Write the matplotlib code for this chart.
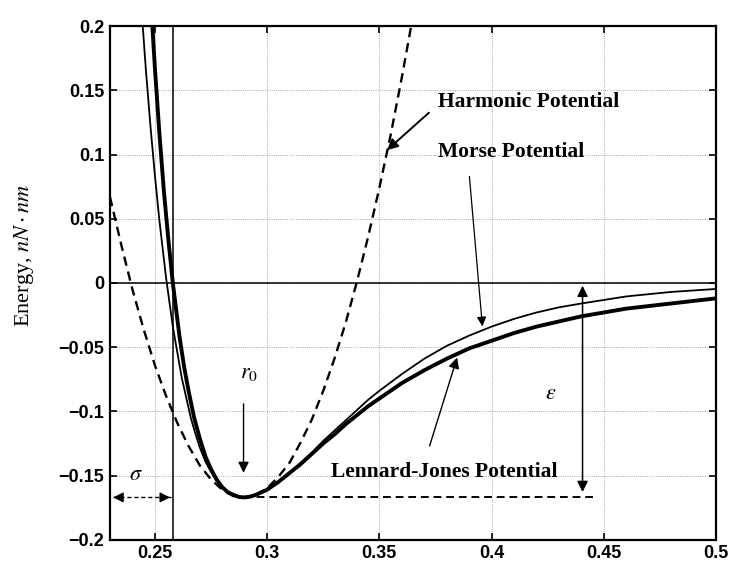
import matplotlib.pyplot as plt

# curves (r in nm, energy in nN*nm)
lj_r = [0.2485, 0.25, 0.252, 0.254, 0.256, 0.258, 0.261, 0.263, 0.265, 0.2675,
        0.27, 0.2725, 0.275, 0.2775, 0.28, 0.2825, 0.285, 0.2875, 0.29, 0.2925,
        0.295, 0.2975, 0.30, 0.305, 0.31, 0.315, 0.32, 0.325, 0.33, 0.335,
        0.34, 0.345, 0.35, 0.36, 0.37, 0.38, 0.39, 0.40, 0.41, 0.42, 0.43,
        0.44, 0.46, 0.48, 0.50]
lj_e = [0.211, 0.168, 0.117, 0.072, 0.034, 0.0, -0.042, -0.065, -0.084, -0.105,
        -0.121, -0.135, -0.145, -0.153, -0.159, -0.163, -0.165, -0.1667, -0.167,
        -0.1664, -0.165, -0.163, -0.161, -0.155, -0.148, -0.141, -0.133, -0.125,
        -0.118, -0.110, -0.103, -0.096, -0.090, -0.078, -0.068, -0.059, -0.051,
        -0.045, -0.039, -0.034, -0.030, -0.026, -0.020, -0.016, -0.012]

morse_r = [0.2446, 0.246, 0.248, 0.250, 0.252, 0.255, 0.258, 0.262, 0.266,
           0.268, 0.27, 0.2725, 0.275, 0.2775, 0.28, 0.2825, 0.285, 0.2875,
           0.29, 0.2925, 0.295, 0.2975, 0.30, 0.305, 0.31, 0.315, 0.32, 0.325,
           0.33, 0.335, 0.34, 0.345, 0.35, 0.36, 0.37, 0.38, 0.39, 0.40, 0.41,
           0.42, 0.43, 0.44, 0.46, 0.48, 0.50]
morse_e = [0.200, 0.166, 0.123, 0.084, 0.049, 0.004, -0.034, -0.074, -0.105,
           -0.117, -0.128, -0.139, -0.147, -0.154, -0.159, -0.163, -0.165,
           -0.1667, -0.167, -0.1665, -0.165, -0.163, -0.161, -0.155, -0.148,
           -0.140, -0.132, -0.123, -0.115, -0.107, -0.099, -0.091, -0.084,
           -0.071, -0.059, -0.049, -0.041, -0.034, -0.028, -0.023, -0.019,
           -0.016, -0.0105, -0.007, -0.0047]

harm_r = [0.23, 0.235, 0.24, 0.245, 0.25, 0.255, 0.26, 0.265, 0.27, 0.275,
          0.28, 0.285, 0.29, 0.295, 0.30, 0.305, 0.31, 0.315, 0.32, 0.325,
          0.33, 0.335, 0.34, 0.345, 0.35, 0.355, 0.36, 0.365]
harm_e = [0.067, 0.030, -0.005, -0.036, -0.064, -0.088, -0.109, -0.127,
          -0.142, -0.153, -0.161, -0.166, -0.167, -0.165, -0.160, -0.151,
          -0.140, -0.124, -0.106, -0.084, -0.059, -0.031, 0.001, 0.036,
          0.074, 0.115, 0.160, 0.208]

sigma = 0.258
r0 = 0.2895
eps = 0.167

xticks = [0.25, 0.3, 0.35, 0.4, 0.45, 0.5]
xticklabels = ['0.25', '0.3', '0.35', '0.4', '0.45', '0.5']
yticks = [-0.2, -0.15, -0.1, -0.05, 0, 0.05, 0.1, 0.15, 0.2]
yticklabels = ['\u22120.2', '\u22120.15', '\u22120.1', '\u22120.05', '0',
               '0.05', '0.1', '0.15', '0.2']

serif = 'Liberation Serif'
sans = 'Liberation Sans'
plt.rcParams['mathtext.fontset'] = 'stix'

fig = plt.figure(figsize=(7.33, 5.67), dpi=100)
ax = fig.add_axes([0.150, 0.048, 0.827, 0.906])

ax.plot(harm_r, harm_e, color='k', lw=1.7, linestyle=(0, (4, 2.5)))
ax.plot(morse_r, morse_e, color='k', lw=1.3)
ax.plot(lj_r, lj_e, color='k', lw=2.8)

ax.axhline(0, color='k', lw=1.1)
ax.axvline(sigma, color='k', lw=1.1)

ax.set_xlim(0.23, 0.5)
ax.set_ylim(-0.2, 0.2)
ax.set_xticks(xticks)
ax.set_xticklabels(xticklabels, fontfamily=sans, fontweight='bold', fontsize=13)
ax.set_yticks(yticks)
ax.set_yticklabels(yticklabels, fontfamily=sans, fontweight='bold', fontsize=13)
ax.tick_params(direction='in', length=5, width=1.2, top=True, right=True, pad=4)
for s in ax.spines.values():
    s.set_linewidth(1.6)
ax.grid(True, linestyle=':', color='0.55', lw=0.6)

ax.set_ylabel(r'Energy, $nN \cdot nm$', fontfamily=serif, fontsize=16)
ax.yaxis.set_label_coords(-0.122, 0.554)

# labels with arrows
txt = dict(fontfamily=serif, fontweight='bold', fontsize=15.5)
ax.text(0.3759, 0.141, 'Harmonic Potential', va='center', **txt)
ax.annotate('', xy=(0.3525, 0.102), xytext=(0.373, 0.134),
            arrowprops=dict(arrowstyle='-|>', color='k', lw=1.4, mutation_scale=16))
ax.text(0.3759, 0.102, 'Morse Potential', va='center', **txt)
ax.annotate('', xy=(0.396, -0.036), xytext=(0.390, 0.085),
            arrowprops=dict(arrowstyle='-|>', color='k', lw=0.9, mutation_scale=14))
ax.text(0.3284, -0.147, 'Lennard-Jones Potential', va='center', **txt)
ax.annotate('', xy=(0.385, -0.056), xytext=(0.372, -0.129),
            arrowprops=dict(arrowstyle='-|>', color='k', lw=1.0, mutation_scale=16))

# r0 marker
ax.annotate('', xy=(r0, -0.150), xytext=(r0, -0.092),
            arrowprops=dict(arrowstyle='-|>', color='k', lw=1.0, mutation_scale=16))
ax.text(r0 + 0.0025, -0.070, r'$r_0$', fontsize=16, ha='center', va='center')

# sigma marker
ax.plot([0.2315, sigma - 0.001], [-eps, -eps], color='k', lw=1.0, linestyle=(0, (3, 2)))
ax.annotate('', xy=(0.2302, -eps), xytext=(0.236, -eps),
            arrowprops=dict(arrowstyle='-|>', color='k', lw=1.0, mutation_scale=15))
ax.annotate('', xy=(sigma, -eps), xytext=(0.252, -eps),
            arrowprops=dict(arrowstyle='-|>', color='k', lw=1.0, mutation_scale=15))
ax.text(0.2415, -0.149, r'$\sigma$', fontsize=16, ha='center', va='center')

# epsilon marker
ax.plot([r0, 0.446], [-eps, -eps], color='k', lw=1.4, linestyle=(0, (4, 2.5)))
ax.annotate('', xy=(0.4405, -eps + 0.002), xytext=(0.4405, 0.0),
            arrowprops=dict(arrowstyle='<|-|>', color='k', lw=1.1, mutation_scale=16))
ax.text(0.4263, -0.086, r'$\varepsilon$', fontsize=16, ha='center', va='center')

fig.savefig('out.png', dpi=100)
